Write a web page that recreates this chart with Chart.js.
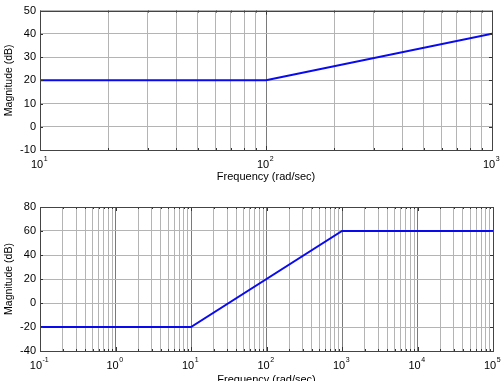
<!DOCTYPE html>
<html lang="en">
<head>
<meta charset="UTF-8">
<title>Bode magnitude</title>
<script src="https://cdn.jsdelivr.net/npm/chart.js"></script>
<style>
  html, body { margin: 0; padding: 0; background: #fff; overflow: hidden; }
  #wrap { position: relative; width: 501px; height: 381px; }
  canvas { position: absolute; left: 0; }
  #c1 { top: 0; }
  #c2 { top: 190px; }
</style>
</head>
<body>
<div id="wrap">
  <canvas id="c1" width="501" height="190"></canvas>
  <canvas id="c2" width="501" height="201"></canvas>
</div>
<script>
// data
const topFreq = [10, 100, 1000];
const topMag = [20, 20, 40];
const topExp = [1, 2, 3];          // x labels 10^n
const topYTicks = [-10, 0, 10, 20, 30, 40, 50];

const botFreq = [0.1, 10, 1000, 100000];
const botMag = [-20, -20, 60, 60];
const botExp = [-1, 0, 1, 2, 3, 4, 5];
const botYTicks = [-40, -20, 0, 20, 40, 60, 80];

const FONT = "'Liberation Sans', Arial, sans-serif";

function isDecade(v) {
    const l = Math.log10(v);
    return Math.abs(l - Math.round(l)) < 1e-9;
}

// grid ticks at 1..9 x 10^n
function logTicks(exps) {
    const out = [];
    for (let i = 0; i < exps.length - 1; i++) {
        for (let m = 1; m < 10; m++) out.push({ value: m * Math.pow(10, exps[i]) });
    }
    out.push({ value: Math.pow(10, exps[exps.length - 1]) });
    return out;
}

// box, inner tick marks and 10^n labels
const matlabAxes = {
    id: 'matlabAxes',
    afterDraw(chart, args, opts) {
        const { ctx, chartArea: a, scales } = chart;
        const xs = scales.x, ys = scales.y;
        ctx.save();
        ctx.strokeStyle = '#333';
        ctx.lineWidth = 1;
        ctx.beginPath();
        xs.ticks.forEach(t => {
            const px = Math.round(xs.getPixelForValue(t.value)) + 0.5;
            const len = isDecade(t.value) ? 4 : 2;
            ctx.moveTo(px, a.bottom); ctx.lineTo(px, a.bottom - len);
            ctx.moveTo(px, a.top); ctx.lineTo(px, a.top + len);
        });
        ys.ticks.forEach(t => {
            const py = Math.round(ys.getPixelForValue(t.value)) + 0.5;
            ctx.moveTo(a.left, py); ctx.lineTo(a.left + 3, py);
            ctx.moveTo(a.right, py); ctx.lineTo(a.right - 3, py);
        });
        ctx.stroke();
        ctx.strokeStyle = '#444';
        ctx.strokeRect(Math.round(a.left) + 0.5, Math.round(a.top) + 0.5,
            Math.round(a.right - a.left), Math.round(a.bottom - a.top));

        // x labels with superscript
        ctx.fillStyle = '#000';
        ctx.textBaseline = 'alphabetic';
        opts.exps.forEach(e => {
            const px = xs.getPixelForValue(Math.pow(10, e));
            ctx.font = '11px ' + FONT;
            const w1 = ctx.measureText('10').width;
            ctx.font = '7px ' + FONT;
            const w2 = ctx.measureText(String(e)).width;
            const x0 = px - (w1 + w2) / 2 - 1;
            ctx.font = '11px ' + FONT;
            ctx.textAlign = 'left';
            ctx.fillText('10', x0, a.bottom + 18);
            ctx.font = '7px ' + FONT;
            ctx.fillText(String(e), x0 + w1 + 0.5, a.bottom + 11);
        });
        ctx.restore();
    }
};

function makeChart(id, freq, mag, exps, yTicks, pad, titlePad) {
    return new Chart(document.getElementById(id), {
        type: 'line',
        data: {
            datasets: [{
                data: freq.map((f, i) => ({ x: f, y: mag[i] })),
                borderColor: '#0a0af0',
                borderWidth: 2,
                pointRadius: 0,
                tension: 0,
                fill: false
            }]
        },
        options: {
            responsive: false,
            animation: false,
            events: [],
            layout: { padding: pad },
            plugins: {
                legend: { display: false },
                tooltip: { enabled: false },
                matlabAxes: { exps: exps }
            },
            scales: {
                x: {
                    type: 'logarithmic',
                    min: Math.pow(10, exps[0]),
                    max: Math.pow(10, exps[exps.length - 1]),
                    afterBuildTicks: s => { s.ticks = logTicks(exps); },
                    afterFit: s => { s.height = 40; },
                    ticks: { display: false },
                    border: { display: false },
                    grid: {
                        drawTicks: false,
                        color: c => (c.tick && isDecade(c.tick.value)) ? '#7a7a7a' : '#b4b4b4',
                        lineWidth: 1
                    },
                    title: {
                        display: true,
                        text: 'Frequency (rad/sec)',
                        color: '#000',
                        font: { family: FONT, size: 11 },
                        padding: { top: 0, bottom: titlePad }
                    }
                },
                y: {
                    type: 'linear',
                    min: yTicks[0],
                    max: yTicks[yTicks.length - 1],
                    afterBuildTicks: s => { s.ticks = yTicks.map(v => ({ value: v })); },
                    afterFit: s => { s.width = 40; },
                    border: { display: false },
                    grid: { drawTicks: false, color: '#b4b4b4', lineWidth: 1 },
                    ticks: {
                        padding: 4,
                        color: '#000',
                        font: { family: FONT, size: 11 }
                    },
                    title: {
                        display: true,
                        text: 'Magnitude (dB)',
                        color: '#000',
                        font: { family: FONT, size: 10.5 },
                        padding: { top: 3, bottom: 0 }
                    }
                }
            }
        },
        plugins: [matlabAxes]
    });
}

makeChart('c1', topFreq, topMag, topExp, topYTicks, { top: 5, right: 9, bottom: 0, left: 0 }, 6);
makeChart('c2', botFreq, botMag, botExp, botYTicks, { top: 17, right: 8, bottom: 0, left: 0 }, 4);
</script>
</body>
</html>
